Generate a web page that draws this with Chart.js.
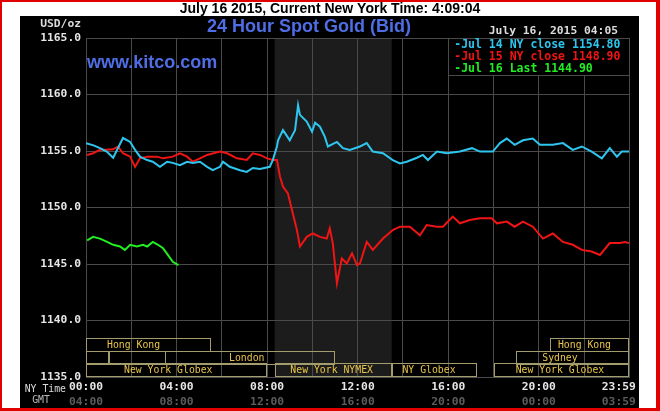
<!DOCTYPE html>
<html>
<head>
<meta charset="utf-8">
<script src="https://cdn.jsdelivr.net/npm/chart.js@4.4.1/dist/chart.umd.min.js"></script>
<style>
  html, body { margin: 0; padding: 0; background: #fff; }
  canvas { display: block; }
</style>
</head>
<body>
<canvas id="chart" width="660" height="411"></canvas>
<script>
// times are minutes after midnight, New York time
const jul14Times = [0, 20, 37, 55, 72, 98, 117, 130, 143, 162, 177, 196, 215, 230, 249, 268, 283, 302, 321, 336,
    355, 363, 381, 408, 426, 442, 461, 487, 495, 506, 509, 522, 540, 554, 562, 567, 585, 599, 607, 620,
    633, 641, 665, 681, 699, 726, 744, 760, 787, 813, 832, 850, 877, 893, 906, 930, 956, 991, 1023, 1044,
    1078, 1097, 1115, 1136, 1158, 1184, 1203, 1237, 1264, 1290, 1314, 1340, 1367, 1388, 1407, 1420, 1439];
const jul14Values = [1155.7, 1155.5, 1155.25, 1154.95, 1154.4, 1156.15, 1155.8, 1155.1, 1154.5, 1154.2, 1154.05, 1153.6, 1154.05, 1153.95, 1153.75, 1154.05, 1153.95, 1154.05, 1153.6, 1153.3,
    1153.6, 1154.05, 1153.6, 1153.3, 1153.15, 1153.5, 1153.4, 1153.6, 1154.2, 1155.4, 1155.95, 1156.85, 1155.95, 1156.85, 1159.05, 1158.2, 1157.6, 1156.7, 1157.5, 1157.15,
    1156.25, 1155.4, 1155.8, 1155.25, 1155.1, 1155.4, 1155.7, 1154.95, 1154.8, 1154.2, 1153.9, 1154.05, 1154.4, 1154.65, 1154.2, 1154.95, 1154.8, 1154.95, 1155.25, 1154.95,
    1154.95, 1155.7, 1156.1, 1155.55, 1155.95, 1156.1, 1155.55, 1155.55, 1155.7, 1155.1, 1155.4, 1154.95, 1154.35, 1155.25, 1154.5, 1154.95, 1154.95];

const jul15Times = [3, 19, 37, 56, 72, 85, 98, 117, 130, 143, 162, 188, 204, 230, 249, 268, 283, 302, 321, 355,
    374, 400, 426, 442, 461, 480, 495, 506, 514, 522, 535, 548, 559, 567, 585, 601, 620, 638, 646, 654,
    665, 678, 691, 705, 718, 726, 744, 760, 787, 813, 832, 858, 885, 903, 930, 946, 972, 991, 1017, 1044,
    1075, 1089, 1115, 1136, 1158, 1184, 1211, 1237, 1264, 1290, 1314, 1340, 1362, 1388, 1415, 1428, 1439];
const jul15Values = [1154.65, 1154.8, 1155.1, 1155.1, 1155.15, 1155.4, 1154.8, 1154.5, 1153.6, 1154.35, 1154.5, 1154.5, 1154.35, 1154.5, 1154.8, 1154.5, 1154.05, 1154.35, 1154.65, 1154.95,
    1154.8, 1154.35, 1154.2, 1154.8, 1154.65, 1154.35, 1154.2, 1154.2, 1152.75, 1151.85, 1151.25, 1149.5, 1148.0, 1146.55, 1147.4, 1147.7, 1147.4, 1147.25, 1148.15, 1146.85,
    1143.3, 1145.5, 1145.05, 1145.95, 1144.9, 1145.05, 1146.95, 1146.25, 1147.25, 1148.0, 1148.3, 1148.3, 1147.55, 1148.45, 1148.3, 1148.3, 1149.2, 1148.6, 1148.9, 1149.05,
    1149.05, 1148.6, 1148.75, 1148.3, 1148.75, 1148.3, 1147.25, 1147.7, 1146.95, 1146.7, 1146.25, 1146.1, 1145.8, 1146.85, 1146.85, 1146.95, 1146.85];

const jul16Times = [3, 19, 37, 56, 72, 90, 103, 117, 135, 151, 162, 177, 191, 204, 217, 230, 245];
const jul16Values = [1147.1, 1147.4, 1147.25, 1146.95, 1146.7, 1146.55, 1146.25, 1146.7, 1146.55, 1146.7, 1146.55, 1146.95, 1146.7, 1146.4, 1145.8, 1145.2, 1144.9];

const seriesNames = ['Jul 14 NY close', 'Jul 15 NY close', 'Jul 16 Last'];
const seriesLast = [1154.80, 1148.90, 1144.90];
const seriesColors = ['#2ec6ee', '#f01414', '#22ee22'];

const tickMinutes = [0, 120, 240, 360, 480, 600, 720, 840, 960, 1080, 1200, 1320, 1439];
const nyLabels = ['00:00', '', '04:00', '', '08:00', '', '12:00', '', '16:00', '', '20:00', '', '23:59   '];
const gmtLabels = ['04:00', '', '08:00', '', '12:00', '', '16:00', '', '20:00', '', '00:00', '', '03:59   '];

// trading sessions: name, row, start, end, where the name sits (minutes)
const sessionNames = ['Hong Kong', '', '', 'London', 'New York Globex', 'New York NYMEX', 'NY Globex', 'New York Globex', 'Sydney', 'Hong Kong'];
const sessionRow = [0, 1, 1, 1, 2, 2, 2, 2, 1, 0];
const sessionStart = [0, 0, 60, 210, 0, 500, 810, 1080, 1140, 1230];
const sessionEnd = [330, 60, 210, 660, 480, 810, 1035, 1439, 1439, 1439];
const sessionLabelAt = [126, 0, 0, 426, 218, 651, 909, 1256, 1256, 1321];
const nymexFloor = [500, 810];

const mono = 'DejaVu Sans Mono';
const gridColor = '#4a4a4a';

function series(times, values) {
    return times.map((t, i) => ({ x: t, y: values[i] }));
}

const frame = {
    id: 'frame',
    beforeDraw(chart) {
        const { ctx, chartArea: a, scales: { x } } = chart;
        ctx.save();
        ctx.fillStyle = '#e00000';
        ctx.fillRect(0, 0, 660, 411);
        ctx.fillStyle = '#ffffff';
        ctx.fillRect(2, 2, 654, 406);
        ctx.fillStyle = '#000000';
        ctx.fillRect(20, 16, 619, 392);
        // NYMEX floor hours
        const x0 = x.getPixelForValue(nymexFloor[0]);
        const x1 = x.getPixelForValue(nymexFloor[1]);
        ctx.fillStyle = '#1c1c1c';
        ctx.fillRect(x0, a.top, x1 - x0, a.bottom - a.top);
        ctx.restore();
    },
    afterDraw(chart) {
        const { ctx, chartArea: a, scales: { x } } = chart;
        ctx.save();
        ctx.textBaseline = 'middle';

        // headline above the panel
        ctx.fillStyle = '#000';
        ctx.textAlign = 'center';
        ctx.font = 'bold 14px "Liberation Sans"';
        ctx.fillText('July 16 2015, Current New York Time: 4:09:04', 330, 9);

        ctx.fillStyle = '#4f6ee6';
        ctx.font = 'bold 18px "Liberation Sans"';
        ctx.fillText('24 Hour Spot Gold (Bid)', 309, 27);
        ctx.textAlign = 'left';
        ctx.fillText('www.kitco.com', 87, 63);

        ctx.fillStyle = '#dcdcdc';
        ctx.font = 'bold 11.3px "' + mono + '"';
        ctx.textAlign = 'right';
        ctx.fillText('USD/oz', 81, 24);
        ctx.fillText('July 16, 2015 04:05', 618, 31);

        ctx.font = '9.8px "' + mono + '"';
        ctx.fillText('NY Time', 66, 389);
        ctx.textAlign = 'center';
        ctx.fillStyle = '#bbbbbb';
        ctx.fillText('GMT', 41, 400);

        // legend box
        const lx = x.getPixelForValue(960);
        ctx.fillStyle = '#000';
        ctx.fillRect(lx, a.top, a.right - lx, 37);
        ctx.strokeStyle = gridColor;
        ctx.lineWidth = 1;
        ctx.strokeRect(Math.round(lx) + 0.5, a.top + 0.5, Math.round(a.right - lx), 37);
        ctx.textAlign = 'left';
        ctx.font = 'bold 11.5px "' + mono + '"';
        seriesNames.forEach((n, i) => {
            ctx.fillStyle = seriesColors[i];
            ctx.fillText('-' + n + ' ' + seriesLast[i].toFixed(2), lx + 6, 45 + i * 12);
        });

        // session boxes along the bottom of the plot
        const rowH = 12.7;
        ctx.strokeStyle = '#a39c6c';
        ctx.font = '9.8px "' + mono + '"';
        ctx.textAlign = 'center';
        sessionNames.forEach((n, i) => {
            const top = a.bottom - 1 - (3 - sessionRow[i]) * rowH;
            const s = x.getPixelForValue(sessionStart[i]);
            const e = x.getPixelForValue(sessionEnd[i]);
            ctx.strokeRect(Math.round(s) + 0.5, Math.round(top) + 0.5, Math.round(e - s) - 1, Math.round(rowH));
            if (n) {
                ctx.fillStyle = '#e8c54a';
                ctx.fillText(n, x.getPixelForValue(sessionLabelAt[i]), top + rowH / 2 + 1);
            }
        });
        ctx.restore();
    }
};

const tickFont = { family: mono, weight: 'bold', size: 11.3 };

new Chart(document.getElementById('chart'), {
    type: 'line',
    data: {
        datasets: [
            { label: seriesNames[0], data: series(jul14Times, jul14Values), borderColor: seriesColors[0] },
            { label: seriesNames[1], data: series(jul15Times, jul15Values), borderColor: seriesColors[1] },
            { label: seriesNames[2], data: series(jul16Times, jul16Values), borderColor: seriesColors[2] }
        ]
    },
    options: {
        responsive: false,
        devicePixelRatio: 1,
        animation: false,
        layout: { padding: { left: 20, top: 38, right: 31, bottom: 0 } },
        elements: {
            point: { radius: 0 },
            line: { borderWidth: 2, tension: 0 }
        },
        plugins: {
            legend: { display: false },
            title: { display: false },
            tooltip: { enabled: false }
        },
        scales: {
            x: {
                type: 'linear',
                position: 'bottom',
                min: 0,
                max: 1439,
                afterBuildTicks: s => { s.ticks = tickMinutes.map(v => ({ value: v })); },
                afterFit: s => { s.height = 16; },
                grid: { color: gridColor, drawTicks: false },
                border: { color: gridColor },
                ticks: {
                    autoSkip: false,
                    maxRotation: 0,
                    padding: 3,
                    color: '#e6e6e6',
                    font: tickFont,
                    callback: (v, i) => nyLabels[i]
                }
            },
            gmt: {
                type: 'linear',
                position: 'bottom',
                min: 0,
                max: 1439,
                afterBuildTicks: s => { s.ticks = tickMinutes.map(v => ({ value: v })); },
                afterFit: s => { s.height = 18; },
                grid: { display: false, drawTicks: false },
                border: { display: false },
                ticks: {
                    autoSkip: false,
                    maxRotation: 0,
                    padding: 2,
                    color: '#5c5c5c',
                    font: tickFont,
                    callback: (v, i) => gmtLabels[i]
                }
            },
            y: {
                min: 1135,
                max: 1165,
                afterFit: s => { s.width = 66; },
                grid: { color: gridColor, drawTicks: false },
                border: { color: gridColor },
                ticks: {
                    stepSize: 5,
                    padding: 5,
                    color: '#e6e6e6',
                    font: tickFont,
                    callback: v => v.toFixed(1)
                }
            }
        }
    },
    plugins: [frame]
});
</script>
</body>
</html>
